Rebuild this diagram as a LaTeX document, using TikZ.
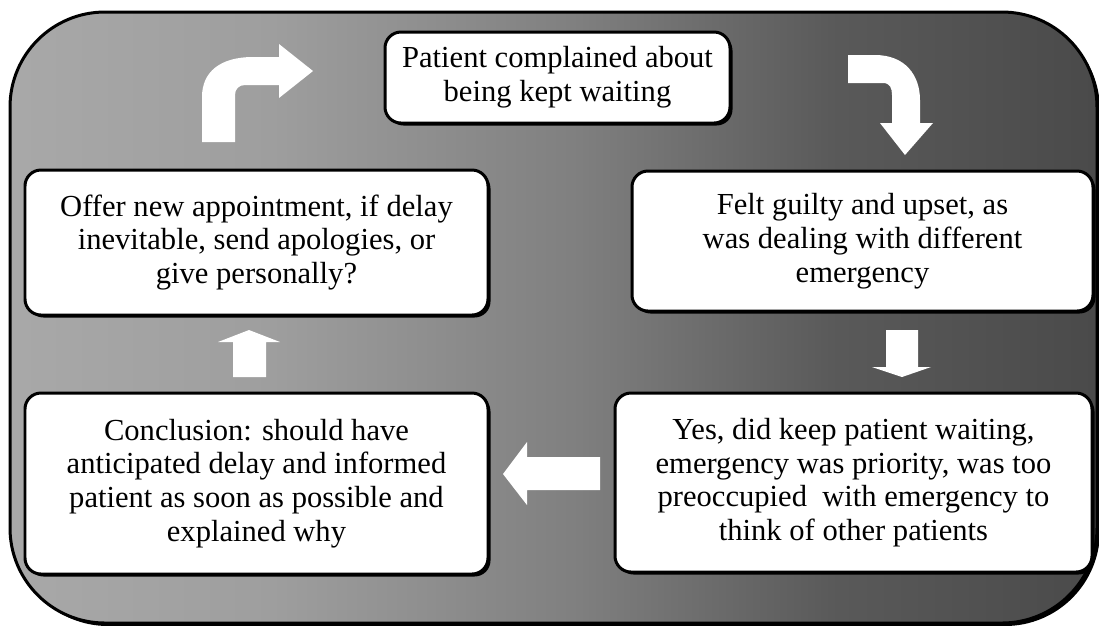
\documentclass[tikz,border=0pt]{standalone}
\usepackage{fontspec}
\setmainfont{Liberation Serif}
\usetikzlibrary{shadows}
\definecolor{gradA}{gray}{0.66}
\definecolor{gradB}{gray}{0.62}
\definecolor{gradC}{gray}{0.50}
\definecolor{gradD}{gray}{0.35}
\definecolor{gradE}{gray}{0.29}
\pgfdeclarehorizontalshading{framegrad}{100bp}{color(0bp)=(gradA); color(25bp)=(gradA); color(37bp)=(gradB); color(51bp)=(gradC); color(63bp)=(gradD); color(75bp)=(gradE); color(100bp)=(gradE)}

\begin{document}
\begin{tikzpicture}[every node/.style={align=center},
  box/.style={draw=black,line width=0.03cm,fill=white,rounded corners=0.16cm,inner sep=0pt,
    font=\fontsize{8.7}{9.6}\selectfont,
    drop shadow={shadow xshift=0.025cm,shadow yshift=-0.025cm,opacity=1,fill=black}},
  blockarrow/.style={fill=white,draw=none}]
\useasboundingbox (0,0) rectangle (10.99,-6.25);
\draw[line width=0.03cm,rounded corners=0.95cm,shading=framegrad,
  drop shadow={shadow xshift=0.03cm,shadow yshift=-0.03cm,opacity=1,fill=black}] (0.10,-0.12) rectangle (10.97,-6.23);
\node[box,minimum width=3.45cm,minimum height=0.91cm] (complaint) at (5.575,-0.775) {Patient complained about\\being kept waiting};
\node[box,minimum width=4.61cm,minimum height=1.40cm] (guilty) at (8.625,-2.41) {Felt guilty and upset, as\\was dealing with different\\emergency};
\node[box,minimum width=4.77cm,minimum height=1.79cm] (keptwaiting) at (8.535,-4.825) {Yes, did keep patient waiting,\\emergency was priority, was too\\preoccupied\ \ with emergency to\\think of other patients};
\node[box,minimum width=4.63cm,minimum height=1.81cm] (conclusion) at (2.565,-4.835) {Conclusion: should have\\anticipated delay and informed\\patient as soon as possible and\\explained why};
\node[box,minimum width=4.63cm,minimum height=1.45cm] (offer) at (2.565,-2.425) {Offer new appointment, if delay\\inevitable, send apologies, or\\give personally?};
% block arrows between the boxes
\fill[blockarrow] (8.48,-0.55) -- (8.75,-0.55) .. controls (9.05,-0.55) and (9.20,-0.75) .. (9.20,-1.00) -- (9.20,-1.23) -- (9.33,-1.23) -- (9.05,-1.55) -- (8.80,-1.23) -- (8.92,-1.23) -- (8.92,-0.95) .. controls (8.92,-0.88) and (8.90,-0.83) .. (8.83,-0.83) -- (8.48,-0.83) -- cycle;
\fill[blockarrow] (8.86,-3.30) -- (9.18,-3.30) -- (9.18,-3.67) -- (9.31,-3.67) -- (9.02,-3.77) -- (8.72,-3.67) -- (8.86,-3.67) -- cycle;
\fill[blockarrow] (6.00,-4.57) -- (5.27,-4.57) -- (5.27,-4.42) -- (5.03,-4.74) -- (5.27,-5.05) -- (5.27,-4.90) -- (6.00,-4.90) -- cycle;
\fill[blockarrow] (2.33,-3.77) -- (2.33,-3.42) -- (2.18,-3.42) -- (2.49,-3.30) -- (2.80,-3.42) -- (2.66,-3.42) -- (2.66,-3.77) -- cycle;
\fill[blockarrow] (2.02,-1.42) -- (2.02,-0.97) .. controls (2.02,-0.72) and (2.20,-0.57) .. (2.53,-0.57) -- (2.79,-0.57) -- (2.79,-0.44) -- (3.13,-0.71) -- (2.79,-0.98) -- (2.79,-0.85) -- (2.45,-0.85) .. controls (2.39,-0.85) and (2.35,-0.89) .. (2.35,-0.95) -- (2.35,-1.42) -- cycle;
\end{tikzpicture}
\end{document}
